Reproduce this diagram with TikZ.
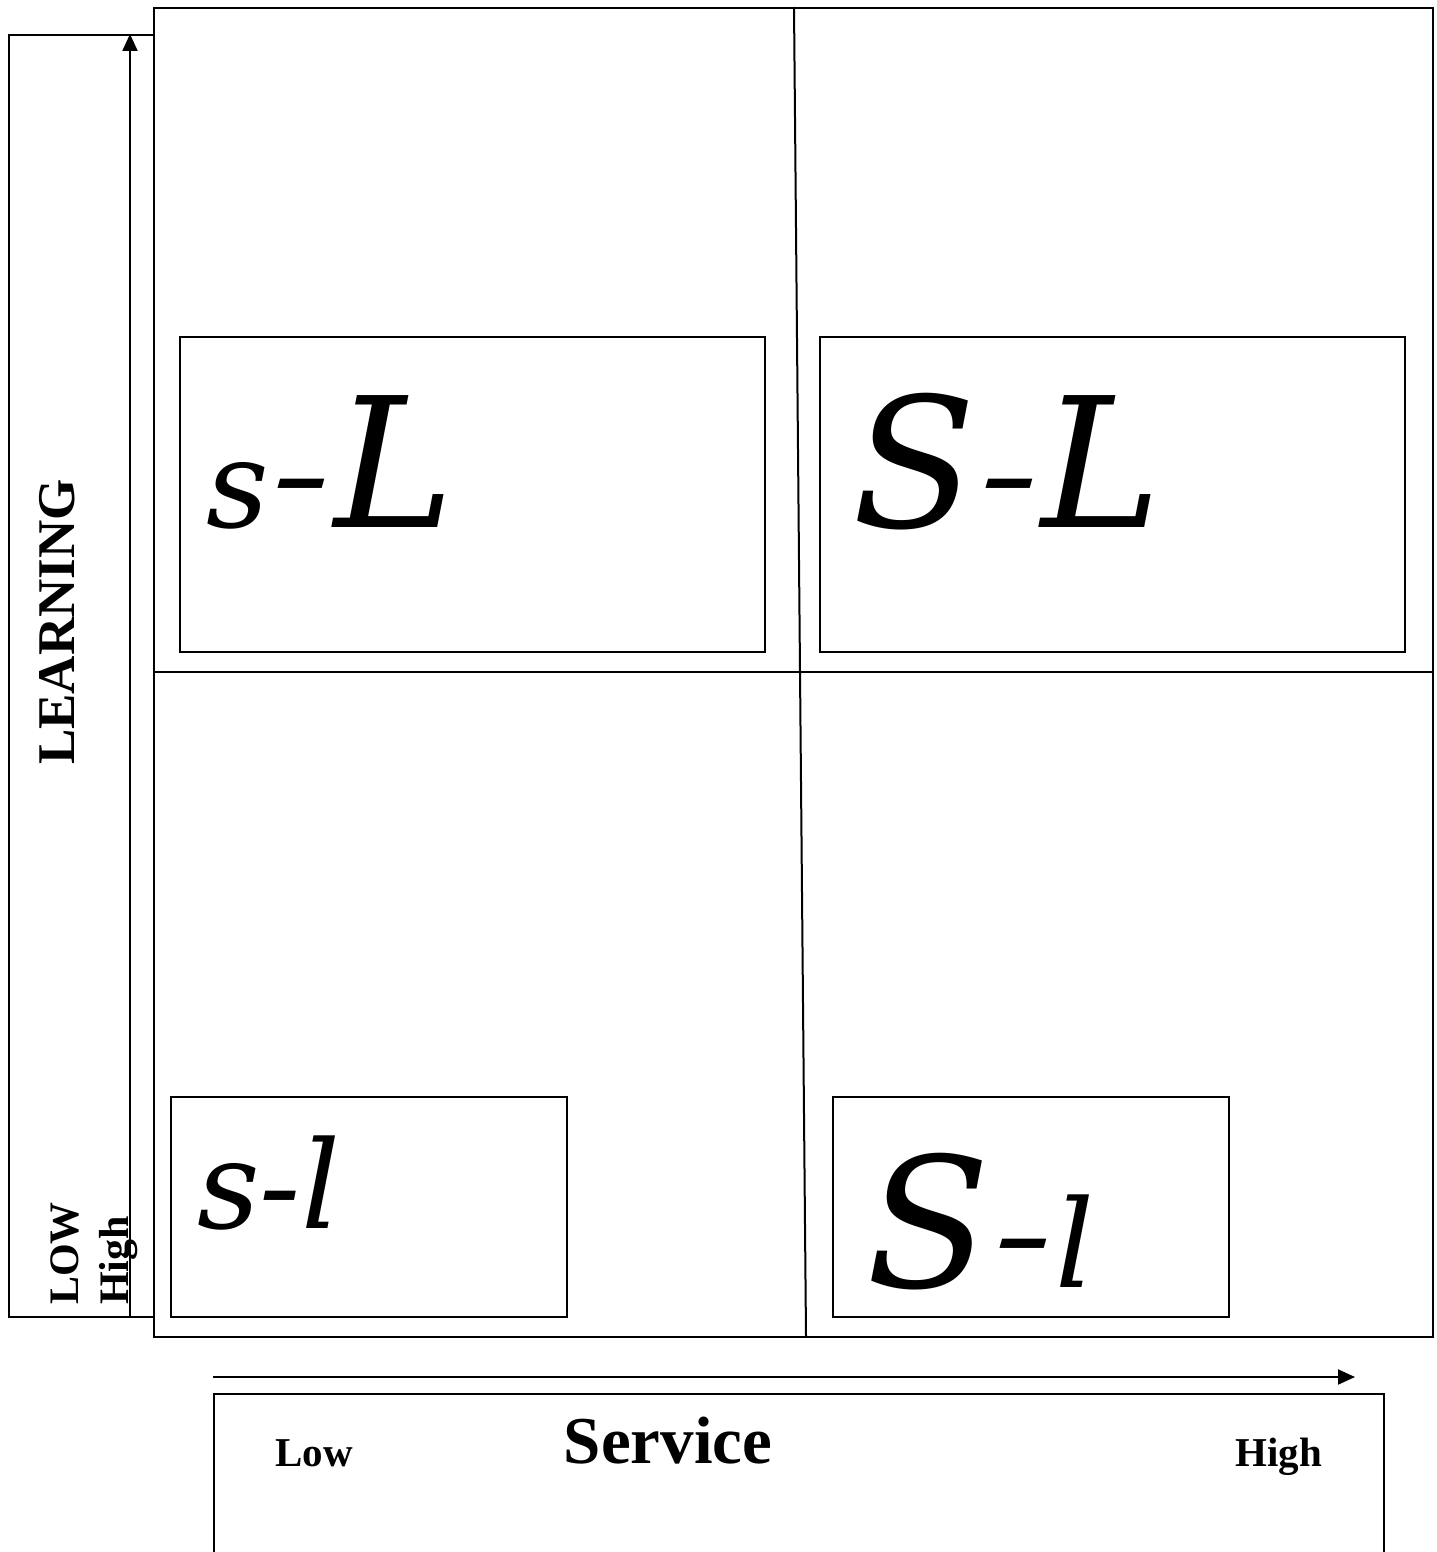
\documentclass[tikz,border=0pt]{standalone}
\usepackage{fontspec}
\setmainfont{Liberation Serif}
\newfontfamily\letterfont{DejaVu Serif}
\usetikzlibrary{arrows.meta}
\tikzset{
  ln/.style={line width=2pt, black},
  box/.style={draw, line width=2pt, inner sep=0pt, anchor=north west},
  arr/.style={line width=2pt, -{Triangle[length=17pt,width=15pt]}},
  lab/.style={inner sep=0pt, anchor=base west},
  axl/.style={font=\fontsize{42}{42}\selectfont\bfseries}
}
\newcommand{\bigsz}{\letterfont\itshape\fontsize{181}{181}\selectfont}
\newcommand{\smlsz}{\letterfont\itshape\fontsize{122}{122}\selectfont}
\newcommand{\hyph}{{\smlsz\kern3pt\raisebox{11pt}{\scalebox{1.45}[1]{-}}\kern3pt}}
\begin{document}
\begin{tikzpicture}[x=1pt,y=-1pt]
\useasboundingbox (0,0) rectangle (1436,1552);
% left axis box
\node[box, minimum width=145pt, minimum height=1282pt] (lbox) at (8,34) {};
% main box
\node[box, minimum width=1279pt, minimum height=1329pt] (main) at (153,7) {};
\coordinate (vt) at (794,7);
\coordinate (vb) at (806,1336);
\draw[ln] (vt) -- (vb);
\draw[ln] (main.west |- 0,672) coordinate (hl) -- (main.east |- 0,672) coordinate (hr);
% inner boxes
\node[box, minimum width=585pt, minimum height=315pt] (bsL) at (179,336) {};
\node[box, minimum width=585pt, minimum height=315pt] (bSL) at (819,336) {};
\node[box, minimum width=396pt, minimum height=220pt] (bsl) at (170,1096) {};
\node[box, minimum width=396pt, minimum height=220pt] (bSl) at (832,1096) {};
% labels in boxes
\node[lab] (tsL) at (206,527) {\smlsz s\hyph\bigsz L};
\node[lab] (tSL) at (852,527) {\bigsz S\hyph\bigsz L};
\node[lab] (tsl) at (197,1228) {\smlsz s-l};
\node[lab] (tSl) at (866,1287) {\bigsz S\hyph\smlsz l};
% vertical axis
\coordinate (va0) at (130,1316);
\coordinate (va1) at (130,34);
\draw[arr] (va0) -- (va1);
\node[rotate=90, inner sep=0pt, font=\fontsize{53}{53}\selectfont\bfseries] (learn) at (57,622) {LEARNING};
\node[axl, rotate=90, lab] (low) at (78,1305) {LOW};
\node[axl, rotate=90, lab] (high) at (128,1305) {High};
% horizontal axis
\coordinate (ha0) at (213,1377);
\coordinate (ha1) at (1355,1377);
\draw[arr] (ha0) -- (ha1);
\coordinate (bb1) at (214,1570);
\coordinate (bb2) at (214,1394);
\coordinate (bb3) at (1384,1394);
\coordinate (bb4) at (1384,1570);
\draw[ln] (bb1) -- (bb2) -- (bb3) -- (bb4);
\node[lab, font=\fontsize{41}{41}\selectfont\bfseries] (hlow) at (275,1466) {Low};
\node[lab, font=\fontsize{41}{41}\selectfont\bfseries] (hhigh) at (1235,1466) {High};
\node[inner sep=0pt, anchor=base, font=\fontsize{67}{67}\selectfont\bfseries] (serv) at (668,1463) {Service};
\end{tikzpicture}
\end{document}
